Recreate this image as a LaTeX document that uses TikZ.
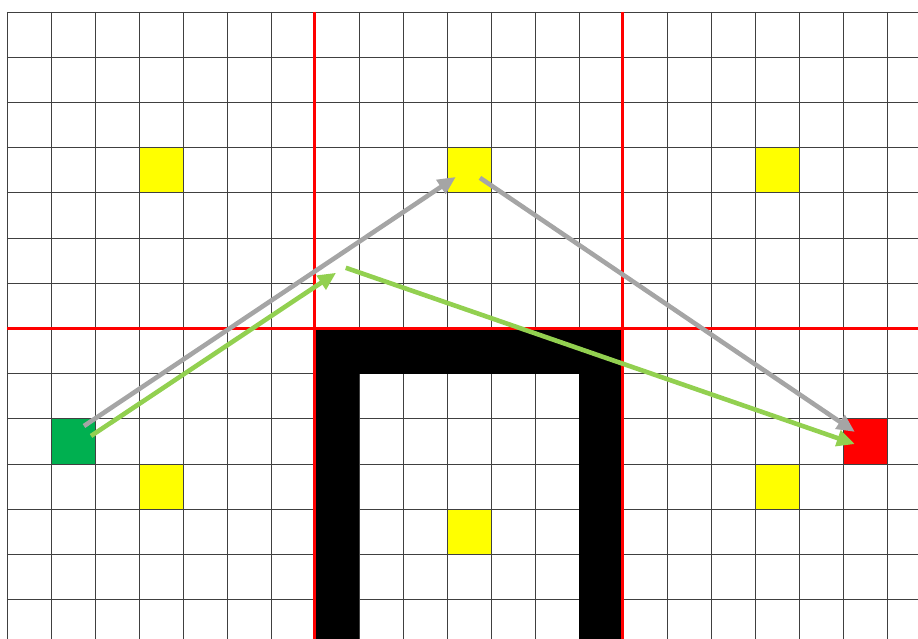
\documentclass[tikz,border=0pt]{standalone}
\usepackage{xcolor}
\usepackage{tikz}
\usetikzlibrary{arrows.meta}
\definecolor{Path}{HTML}{A5A5A5}
\definecolor{Smooth}{HTML}{92D050}
\definecolor{Start}{HTML}{00B050}
\definecolor{Goal}{HTML}{FF0000}
\definecolor{Key}{HTML}{FFFF00}

\begin{document}
\begin{tikzpicture}[x=44pt,y=-45.2pt,
    cellbox/.style={fill=#1,draw=none,minimum width=44pt,minimum height=45.2pt,inner sep=0pt,anchor=north west},
    gridline/.style={black!75,line width=0.6pt},
    sector/.style={Goal,line width=3pt},
    route/.style={line width=4.6pt,-{Triangle[length=18pt,width=16pt]}}]
  \useasboundingbox (-0.159,-0.265) rectangle (20.705,13.872);
  % key cells
  \node[cellbox=Key] (keyA) at (3,3) {};
  \node[cellbox=Key] (keyB) at (10,3) {};
  \node[cellbox=Key] (keyC) at (17,3) {};
  \node[cellbox=Key] (keyD) at (3,10) {};
  \node[cellbox=Key] (keyE) at (17,10) {};
  \node[cellbox=Key] (keyF) at (10,11) {};
  \node[cellbox=Start] (start) at (1,9) {};
  \node[cellbox=Goal] (goal) at (19,9) {};
  % grid
  \foreach \c in {0,...,20}
    \draw[gridline] (\c,0) -- (\c,13.872);
  \foreach \r in {0,...,13}
    \draw[gridline] (0,\r) -- (20.705,\r);
  % wall
  \fill[black] (7,7) rectangle (14,8);
  \fill[black] (7,8) rectangle (8,13.872);
  \fill[black] (13,8) rectangle (14,13.872);
  % sectors
  \draw[sector] (7,0) -- (7,13.872);
  \draw[sector] (14,0) -- (14,13.872);
  \draw[sector] (0,7) -- (20.705,7);
  % waypoints
  \coordinate (g0) at (1.75,9.16);
  \coordinate (g1) at (10.20,3.65);
  \coordinate (g2) at (10.75,3.67);
  \coordinate (g3) at (19.27,9.29);
  \coordinate (s0) at (1.91,9.38);
  \coordinate (s1) at (7.48,5.77);
  \coordinate (s2) at (7.70,5.66);
  \coordinate (s3) at (19.27,9.56);
  % routes
  \draw[route,Path] (g0) -- (g1);
  \draw[route,Path] (g2) -- (g3);
  \draw[route,Smooth] (s0) -- (s1);
  \draw[route,Smooth] (s2) -- (s3);
\end{tikzpicture}
\end{document}
